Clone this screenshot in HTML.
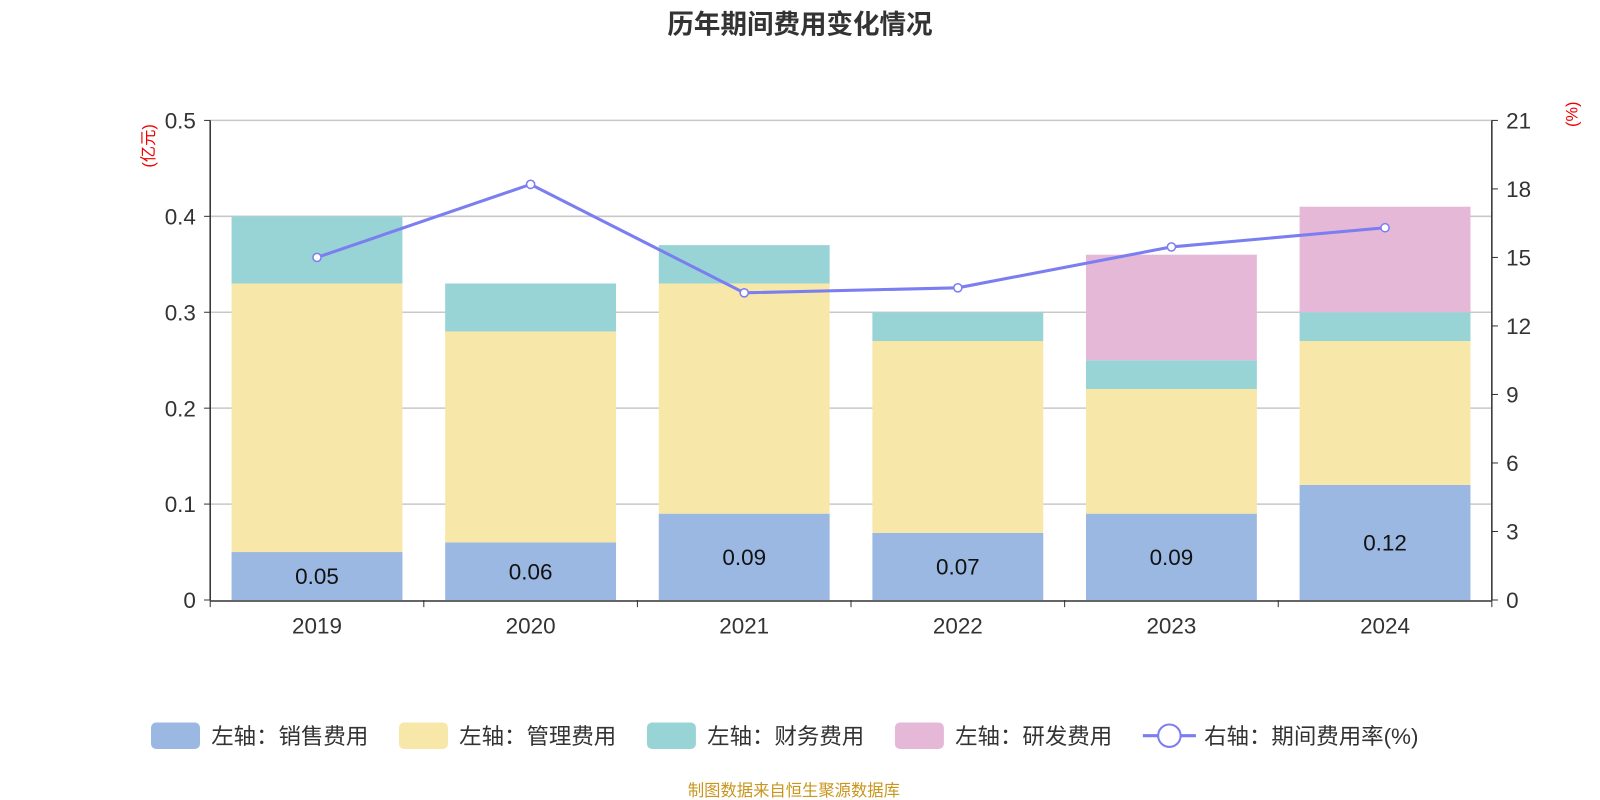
<!DOCTYPE html>
<html><head><meta charset="utf-8"><style>
body{margin:0;background:#fff;font-family:"Liberation Sans","Noto Sans CJK SC",sans-serif;}
svg{display:block}
svg text{font-family:"Liberation Sans","Noto Sans CJK SC",sans-serif;}
</style></head><body>
<svg id="c" width="1600" height="800" viewBox="0 0 1568 784" xmlns="http://www.w3.org/2000/svg">
<text x="784" y="33" text-anchor="middle" font-size="26" font-weight="bold" fill="#333">历年期间费用变化情况</text>
<text transform="translate(151,143) rotate(-90)" text-anchor="middle" font-size="16" fill="#e00">(亿元)</text>
<text transform="translate(1546,112) rotate(-90)" text-anchor="middle" font-size="16" fill="#e00">(%)</text>
<g id="grid"></g><g id="bars"></g><g id="axes"></g><g id="line"></g>
<g font-size="22" fill="#333">
<rect x="148" y="708" width="48" height="26" rx="5" fill="#9bb8e2"/>
<text x="207" y="729">左轴：销售费用</text>
<rect x="391" y="708" width="48" height="26" rx="5" fill="#f7e7a8"/>
<text x="450" y="729">左轴：管理费用</text>
<rect x="634" y="708" width="48" height="26" rx="5" fill="#98d4d5"/>
<text x="693" y="729">左轴：财务费用</text>
<rect x="877" y="708" width="48" height="26" rx="5" fill="#e6b8d8"/>
<text x="936" y="729">左轴：研发费用</text>
<line x1="1120" y1="721" x2="1172" y2="721" stroke="#7b7ef0" stroke-width="3"/>
<circle cx="1146" cy="721" r="11" fill="#fff" stroke="#7b7ef0" stroke-width="2"/>
<text x="1180" y="729">右轴：期间费用率(%)</text>
</g>
<text x="778" y="780" text-anchor="middle" font-size="16" fill="#c8961e">制图数据来自恒生聚源数据库</text>
</svg>
<script>
const years=["2019","2020","2021","2022","2023","2024"];
const sales=[0.05,0.06,0.09,0.07,0.09,0.12];
const admin=[0.28,0.22,0.24,0.20,0.13,0.15];
const finance=[0.07,0.05,0.04,0.03,0.03,0.03];
const rd=[0,0,0,0,0.11,0.11];
const rate=[15.0,18.2,13.45,13.67,15.46,16.3];
const leftTicks=[0,0.1,0.2,0.3,0.4,0.5];
const rightTicks=[0,3,6,9,12,15,18,21];
const NS="http://www.w3.org/2000/svg";
const X0=206,X1=1462,Y0=588,Y1=118;
const band=(X1-X0)/years.length;
const yL=v=>Y0-(v/0.5)*(Y0-Y1);
const yR=v=>Y0-(v/21)*(Y0-Y1);
const xC=i=>X0+band*(i+0.5);
function mk(t,a,p){const e=document.createElementNS(NS,t);for(const k in a)e.setAttribute(k,a[k]);p.appendChild(e);return e;}
const grid=document.getElementById('grid'),bars=document.getElementById('bars'),axes=document.getElementById('axes'),line=document.getElementById('line');
leftTicks.forEach(v=>{
 if(v>0){const g=mk('line',{x1:X0,x2:X1,y1:yL(v),y2:yL(v),stroke:'#c8c8c8','stroke-width':1.5},grid);
 
 }
 const t=mk('text',{x:X0-14,y:yL(v)+8,'text-anchor':'end','font-size':22,fill:'#333'},axes);t.textContent=v;
 
 
 mk('line',{x1:X0-6,x2:X0,y1:yL(v),y2:yL(v),stroke:'#333'},axes);
});
rightTicks.forEach(v=>{
 const t=mk('text',{x:X1+14,y:yR(v)+8,'font-size':22,fill:'#333'},axes);t.textContent=v;
 
 
 mk('line',{x1:X1,x2:X1+6,y1:yR(v),y2:yR(v),stroke:'#333'},axes);
});
mk('line',{x1:X0,x2:X0,y1:Y1,y2:Y0,stroke:'#333','stroke-width':1.5},axes);
mk('line',{x1:X1,x2:X1,y1:Y1,y2:Y0,stroke:'#333','stroke-width':1.5},axes);
mk('line',{x1:X0,x2:X1,y1:Y0+1,y2:Y0+1,stroke:'#333','stroke-width':1.5},axes);
for(let i=0;i<=years.length;i++)mk('line',{x1:X0+band*i,x2:X0+band*i,y1:Y0,y2:Y0+7,stroke:'#333'},axes);
const series=[[sales,'#9bb8e2','bar-sales'],[admin,'#f7e7a8','bar-admin'],[finance,'#98d4d5','bar-finance'],[rd,'#e6b8d8','bar-rd']];
const bw=band*0.8;
years.forEach((y,i)=>{
 let base=0;
 series.forEach(([arr,col,name])=>{
  const v=arr[i];if(v<=0)return;
  const r=mk('rect',{x:xC(i)-bw/2,y:yL(base+v),width:bw,height:yL(base)-yL(base+v),fill:col},bars);
  
  
  base+=v;
 });
 const t=mk('text',{x:xC(i),y:(yL(0)+yL(sales[i]))/2+8,'text-anchor':'middle','font-size':22,fill:'#111'},bars);t.textContent=sales[i].toFixed(2);
 
 
 const xl=mk('text',{x:xC(i),y:Y0+33,'text-anchor':'middle','font-size':22,fill:'#333'},axes);xl.textContent=y;
 
 
});
const pl=mk('polyline',{points:rate.map((v,i)=>xC(i)+','+yR(v)).join(' '),fill:'none',stroke:'#7b7ef0','stroke-width':3},line);


rate.forEach((v,i)=>{
 const c=mk('circle',{cx:xC(i),cy:yR(v),r:4,fill:'#fff',stroke:'#7b7ef0','stroke-width':1.5},line);
 
 
});
</script>
</body></html>
